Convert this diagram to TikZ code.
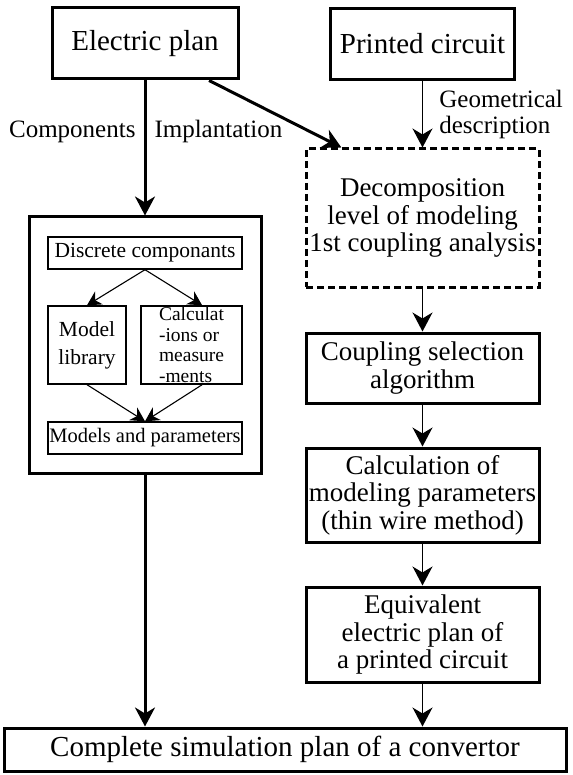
\documentclass[tikz,border=0pt]{standalone}
\usepackage{fontspec}
\setmainfont{Liberation Serif}
\usepackage{tikz}
\usetikzlibrary{positioning, arrows.meta, calc}

\begin{document}
\begin{tikzpicture}[
        x=1pt, y=-1pt,
        % Style des blocs principaux
        mainBox/.style={
            draw=black,
            line width=3pt,
            minimum width=186pt,
            minimum height=71pt,
            align=center,
            inner sep=0pt,
            font=\fontsize{29}{28}\selectfont
        },
        % Style des blocs de la colonne de droite
        stageBox/.style={
            draw=black,
            line width=3pt,
            minimum width=233pt,
            align=center,
            inner sep=0pt,
            font=\fontsize{27}{27.5}\selectfont
        },
        % Style des petits blocs internes
        smallBox/.style={
            draw=black,
            line width=1.4pt,
            align=center,
            inner sep=0pt,
            font=\fontsize{21.5}{21}\selectfont
        },
        % Etiquettes des liaisons
        labelText/.style={
            inner sep=0pt,
            font=\fontsize{25}{26}\selectfont
        },
        bigArrow/.style={-{Stealth[length=19pt, width=20pt, inset=6pt]}, line width=3pt},
        thinArrow/.style={-{Stealth[length=19pt, width=20pt, inset=6pt]}, line width=1.7pt},
        innerArrow/.style={-{Stealth[length=14pt, width=15pt, inset=4.5pt]}, line width=1.1pt}
    ]

    \useasboundingbox (0,0) rectangle (572,775);

    % Entrées
    \node[mainBox] (EP) at (145,43.5) {Electric plan};
    \node[mainBox, minimum width=184pt] (PC) at (422.5,44) {Printed circuit};

    % Bloc des composants
    \node[draw=black, line width=3pt, minimum width=232pt, minimum height=256pt] (LB) at (145,345) {};
    \node[smallBox, minimum width=194pt, minimum height=32pt] (DC) at (145,253) {Discrete componants};
    \node[smallBox, minimum width=78pt, minimum height=78pt, font=\fontsize{21.5}{28}\selectfont] (ML) at (87,345) {Model\\library};
    \node[smallBox, minimum width=101pt, minimum height=78pt, align=left, font=\fontsize{19.5}{20.5}\selectfont] (CM) at (191.5,345) {Calculat\\-ions or\\measure\\-ments};
    \node[smallBox, minimum width=194pt, minimum height=32pt, font=\fontsize{20.5}{21}\selectfont] (MP) at (145,438) {Models and parameters};

    % Colonne du circuit imprimé
    \node[stageBox, dashed, dash pattern=on 7pt off 4pt, minimum height=138pt] (DE) at (422.5,218) {Decomposition\\level of modeling\\1st coupling analysis};
    \node[stageBox, minimum height=70pt] (CS) at (422.5,368) {Coupling selection\\algorithm};
    \node[stageBox, minimum height=94pt] (CP) at (422.5,495) {Calculation of\\modeling parameters\\(thin wire method)};
    \node[stageBox, minimum height=95pt] (EQ) at (422.5,634.5) {Equivalent\\electric plan of\\a printed circuit};

    % Sortie
    \node[mainBox, minimum width=562pt, minimum height=43pt] (CO) at (285,749.5) {Complete simulation plan of a convertor};

    % Flèches principales
    \draw[bigArrow] (EP) -- node[labelText, pos=0.38, left=8pt] {Components}
        node[labelText, pos=0.38, right=8pt] {Implantation} (LB);
    \draw[bigArrow] (EP.-30) -- (DE.139);
    \draw[thinArrow] (PC) -- node[labelText, right=16pt, align=left] {Geometrical\\description} (DE);
    \draw[thinArrow] (DE) -- (CS);
    \draw[thinArrow] (CS) -- (CP);
    \draw[thinArrow] (CP) -- (EQ);
    \draw[thinArrow] (EQ) -- (EQ |- CO.north);
    \draw[bigArrow] (LB) -- (LB |- CO.north);

    % Flèches internes
    \draw[innerArrow] (DC.south) -- (ML.north);
    \draw[innerArrow] (DC.south) -- (CM.75);
    \draw[innerArrow] (ML.south) -- (MP.north);
    \draw[innerArrow] (CM.-75) -- (MP.north);

\end{tikzpicture}
\end{document}
